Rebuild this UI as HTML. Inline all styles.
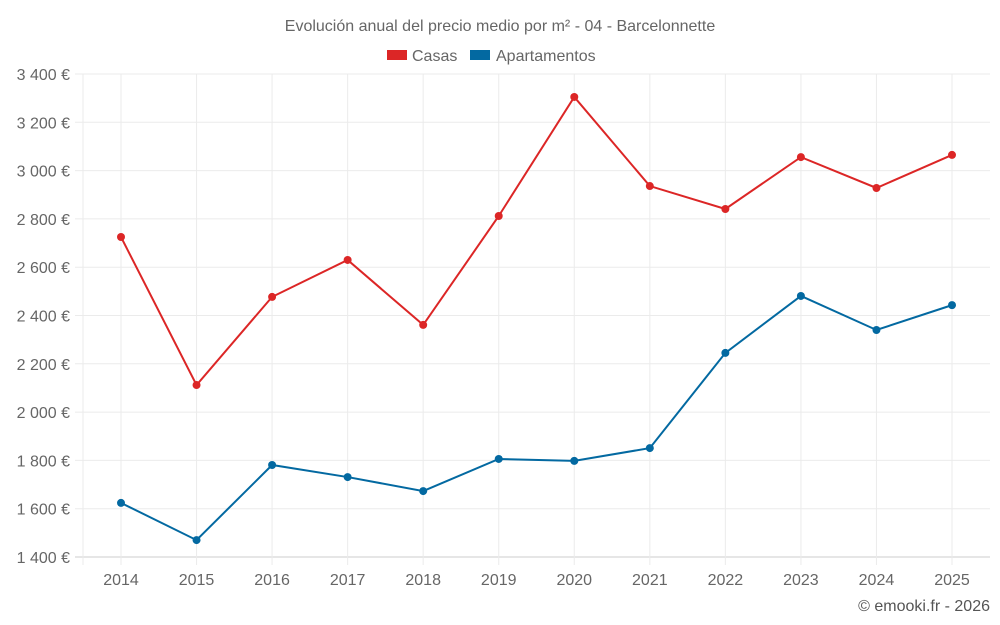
<!DOCTYPE html>
<html><head><meta charset="utf-8"><style>
body{margin:0;background:#fff;}
svg{display:block;font-family:"Liberation Sans",Arial,sans-serif;}
</style></head><body>
<svg id="c" width="1000" height="625">
<text x="500" y="31" text-anchor="middle" font-size="16" fill="#666">Evolución anual del precio medio por m² - 04 - Barcelonnette</text>
<g>
<g><rect x="387" y="50" width="20" height="10" fill="#dc2626"/><text x="412" y="61" font-size="16" fill="#666">Casas</text></g>
<g><rect x="470" y="50" width="20" height="10" fill="#0369a1"/><text x="496" y="61" font-size="16" fill="#666">Apartamentos</text></g>
</g>
<g id="grid"></g><g id="axes"></g><g id="series"></g>
<text x="990" y="611" text-anchor="end" font-size="16" fill="#555">© emooki.fr - 2026</text>
</svg>
<script>
const years=["2014","2015","2016","2017","2018","2019","2020","2021","2022","2023","2024","2025"];
const casas=[2725,2112,2477,2630,2361,2812,3305,2936,2841,3056,2928,3065];
const apartamentos=[1624,1470,1781,1731,1673,1806,1798,1851,2245,2481,2340,2443];
const yTicks=[1400,1600,1800,2000,2200,2400,2600,2800,3000,3200,3400];
const NS="http://www.w3.org/2000/svg";
const L=83,R=990,T=74,B=557,yMin=1400,yMax=3400;
const x0=121,step=(952-121)/11;
function xs(i){return x0+i*step;}
function ys(v){return B-(v-yMin)/(yMax-yMin)*(B-T);}
function mk(tag,at,parent){const e=document.createElementNS(NS,tag);for(const k in at)e.setAttribute(k,at[k]);parent.appendChild(e);return e;}
const grid=document.getElementById('grid'),axes=document.getElementById('axes'),ser=document.getElementById('series');
yTicks.forEach(v=>{
 const l=mk('line',{x1:L-8,x2:R,y1:ys(v),y2:ys(v),stroke:v===yMin?'#ccc':'#ebebeb','stroke-width':1},grid);
 
 
 const t=mk('text',{x:70,y:ys(v)+6,'text-anchor':'end','font-size':16,fill:'#666'},axes);
 t.textContent=String(v).replace(/\B(?=(\d{3})+(?!\d))/g,' ')+' €';
 
 
});
const lv=mk('line',{x1:L,x2:L,y1:T,y2:B+8,stroke:'#ebebeb'},grid);


years.forEach((y,i)=>{
 const g=mk('line',{x1:xs(i),x2:xs(i),y1:T,y2:B+8,stroke:'#ebebeb'},grid);
 
 
 const t=mk('text',{x:xs(i),y:585,'text-anchor':'middle','font-size':16,fill:'#666'},axes);
 t.textContent=y;
 
 
});
function draw(data,color,name){
 const p=mk('polyline',{points:data.map((v,i)=>xs(i)+','+ys(v)).join(' '),fill:'none',stroke:color,'stroke-width':2},ser);
 
 
 data.forEach((v,i)=>{
  const c=mk('circle',{cx:xs(i),cy:ys(v),r:4,fill:color},ser);
  
  
 });
}
draw(casas,'#dc2626','casas');
draw(apartamentos,'#0369a1','apartamentos');
</script>
</body></html>
